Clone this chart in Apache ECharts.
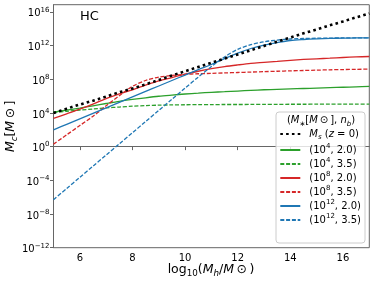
<!DOCTYPE html>
<html><head><meta charset="utf-8">
<script src="https://cdn.jsdelivr.net/npm/echarts@6/dist/echarts.min.js"></script>
<style>html,body{margin:0;padding:0;background:#fff}#c{width:374px;height:283px}</style>
</head><body><div id="c"></div>
<script>
// x: log10(Mh/Msun); y values are log10(Mc/Msun)
const logMh = [5,5.5,6,6.5,7,7.5,8,8.5,9,9.5,10,10.5,11,11.5,12,12.5,13,13.5,14,14.5,15,15.5,16,16.5,17];
const msZ0  = [4.0,4.5,5.0,5.45,5.95,6.45,6.9,7.4,7.9,8.45,8.95,9.45,9.95,10.45,10.95,11.45,11.95,12.45,12.95,13.45,13.9,14.4,14.85,15.35,15.8];
const g20   = [4.1,4.33,4.58,4.85,5.12,5.38,5.6,5.8,5.98,6.12,6.25,6.35,6.45,6.52,6.6,6.68,6.75,6.8,6.85,6.9,6.95,7.0,7.05,7.1,7.15];
const g35   = [4.05,4.2,4.33,4.47,4.6,4.7,4.8,4.87,4.92,4.95,4.97,4.98,4.99,5.0,5.0,5.01,5.02,5.02,5.03,5.03,5.04,5.04,5.05,5.05,5.05];
const r20   = [3.35,3.9,4.45,5.05,5.7,6.25,6.75,7.3,7.8,8.2,8.6,8.95,9.25,9.5,9.7,9.88,10.0,10.12,10.25,10.35,10.43,10.5,10.58,10.65,10.7];
const r35   = [0.3,1.4,2.5,3.6,4.85,6.05,7.15,7.85,8.25,8.45,8.58,8.65,8.7,8.75,8.8,8.85,8.9,8.95,9.0,9.04,9.08,9.12,9.15,9.18,9.2];
const b20   = [2.0,2.65,3.3,3.95,4.6,5.25,5.9,6.55,7.2,7.85,8.5,9.15,9.75,10.45,11.1,11.65,12.05,12.35,12.6,12.72,12.8,12.85,12.88,12.9,12.92];
const b35   = [-6.3,-4.97,-3.65,-2.32,-1.0,0.33,1.65,2.98,4.3,5.62,6.95,8.25,9.5,10.65,11.55,12.1,12.45,12.65,12.78,12.84,12.87,12.89,12.9,12.91,12.92];
const xTicks = [6,8,10,12,14,16];
const yTicks = [-12,-8,-4,0,4,8,12,16];

const FF = 'DejaVu Sans';
const GREEN = '#2ca02c', RED = '#d62728', BLUE = '#1f77b4';
const pair = ys => logMh.map((x, i) => [x, ys[i]]);

const legendLabels = {
  Ms:  '{i|M}{sb|s}{n| (}{i|z}{n| = 0)}',
  g20: '{n|(10}{sp|4}{n|, 2.0)}',
  g35: '{n|(10}{sp|4}{n|, 3.5)}',
  r20: '{n|(10}{sp|8}{n|, 2.0)}',
  r35: '{n|(10}{sp|8}{n|, 3.5)}',
  b20: '{n|(10}{sp|12}{n|, 2.0)}',
  b35: '{n|(10}{sp|12}{n|, 3.5)}'
};
function richSet(fs) {
  return {
    n:  {fontFamily: FF, fontSize: fs, lineHeight: fs + 4, color: '#000'},
    i:  {fontFamily: FF, fontSize: fs, fontStyle: 'italic', lineHeight: fs + 4, color: '#000'},
    sb: {fontFamily: FF, fontSize: fs * 0.7, fontStyle: 'italic', lineHeight: fs * 0.7, verticalAlign: 'bottom', color: '#000'},
    sp: {fontFamily: FF, fontSize: fs * 0.7, lineHeight: fs * 0.7, verticalAlign: 'top', color: '#000'}
  };
}

function mkLine(name, ys, color, dashed, z) {
  return {
    name, type: 'line', data: pair(ys), symbol: 'none', smooth: 0.3, z: z || 2,
    lineStyle: {color, width: 1.3, type: dashed ? [4, 1.8] : 'solid'},
    itemStyle: {color}
  };
}

const series = [
  mkLine('g20', g20, GREEN, false),
  mkLine('g35', g35, GREEN, true),
  mkLine('r20', r20, RED, false),
  mkLine('r35', r35, RED, true),
  mkLine('b20', b20, BLUE, false),
  mkLine('b35', b35, BLUE, true),
  {name: 'Ms', type: 'line', data: pair(msZ0), symbol: 'none', z: 3,
   lineStyle: {color: '#000', width: 2.6, type: [2.6, 3.2], cap: 'butt'}, itemStyle: {color: '#000'}}
];

const chart = echarts.init(document.getElementById('c'), null, {renderer: 'canvas'});
chart.setOption({
  animation: false,
  backgroundColor: '#fff',
  grid: {left: 53.5, right: 4.7, top: 4.7, bottom: 35.3, show: true, borderColor: '#666', borderWidth: 1, backgroundColor: 'transparent'},
  xAxis: {
    type: 'value', min: 5, max: 17,
    axisLine: {show: true, lineStyle: {color: '#666', width: 1}},
    axisTick: {show: true, inside: false, length: 3.5, customValues: xTicks, lineStyle: {color: '#666'}},
    axisLabel: {customValues: xTicks, margin: 5.5, fontFamily: FF, fontSize: 10, color: '#000'},
    splitLine: {show: false}
  },
  yAxis: {
    type: 'value', min: -12, max: 16.85,
    axisLine: {show: true, lineStyle: {color: '#666', width: 1}},
    axisTick: {show: true, inside: false, length: 3.5, customValues: yTicks, lineStyle: {color: '#666'}},
    axisLabel: {
      customValues: yTicks, margin: 4, color: '#000', padding: [4, 0, 0, 0],
      formatter: v => { const e = Math.round(v); return '{b|10}{s|' + (e < 0 ? '\u2212' + (-e) : e) + '}'; },
      rich: {
        b: {fontFamily: FF, fontSize: 10, lineHeight: 15, color: '#000'},
        s: {fontFamily: FF, fontSize: 7, lineHeight: 7, verticalAlign: 'top', color: '#000'}
      }
    },
    splitLine: {show: false}
  },
  legend: {
    orient: 'vertical', left: 279.3, top: 129, padding: 0, z: 20,
    itemWidth: 20, itemHeight: 10, itemGap: 2,
    data: ['Ms', 'g20', 'g35', 'r20', 'r35', 'b20', 'b35'],
    formatter: name => legendLabels[name],
    itemStyle: {opacity: 0},
    textStyle: {fontFamily: FF, fontSize: 10, color: '#000', padding: [0, 0, 0, 4], rich: richSet(10)},
    selectedMode: false
  },
  graphic: [
    {type: 'rect', z: 10, shape: {x: 276, y: 112, width: 89, height: 131, r: 3},
     style: {fill: 'rgba(255,255,255,0.8)', stroke: '#cccccc', lineWidth: 1}},
    {type: 'text', z: 60, x: 321, y: 120.5,
     style: {text: '{n|(}{i|M}{sb|\u2217}{n|[}{i|M}{n|\u2009\u2299\u2009], }{i|n}{sb|b}{n|)}',
             rich: richSet(10), align: 'center', verticalAlign: 'middle'}},
    {type: 'text', z: 60, x: 80, y: 16.7,
     style: {text: 'HC', fontFamily: FF, fontSize: 13, fill: '#000', align: 'left', verticalAlign: 'middle'}},
    {type: 'text', z: 60, x: 211, y: 270,
     style: {text: '{n|log}{sl|10}{n|(}{i|M}{sb|h}{n|/}{i|M}{n|\u2009\u2299\u2009)}',
             rich: Object.assign(richSet(12.5), {sl: {fontFamily: FF, fontSize: 8.75, lineHeight: 8.75, verticalAlign: 'bottom', color: '#000'}}),
             align: 'center', verticalAlign: 'middle'}},
    {type: 'text', z: 60, x: 11, y: 126.3, rotation: Math.PI / 2,
     style: {text: '{i|M}{sb|c}{n|[}{i|M}{n|\u2009\u2299\u2009]}',
             rich: richSet(12.5), align: 'center', verticalAlign: 'middle'}}
  ],
  series
});
</script></body></html>
